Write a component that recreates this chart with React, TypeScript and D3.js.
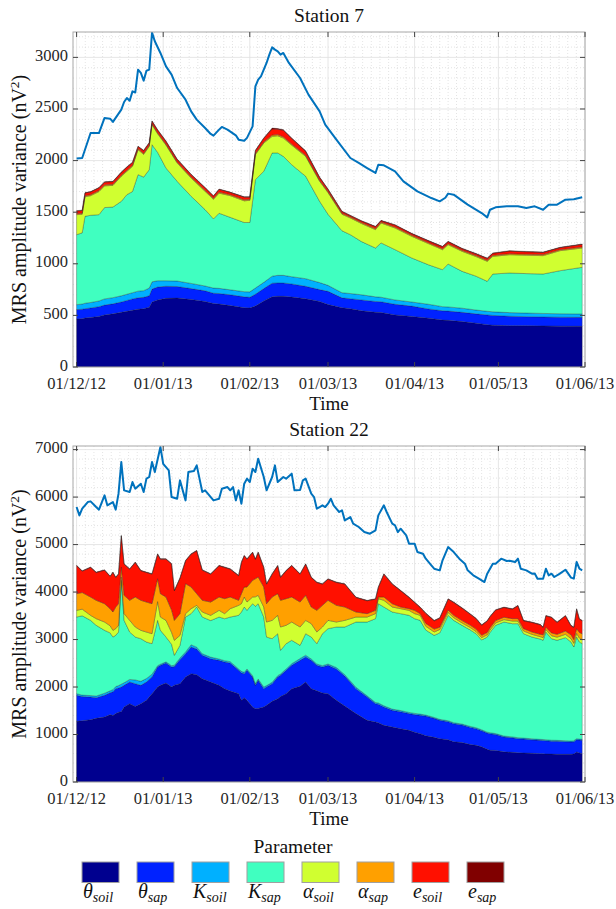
import React from 'react';
import * as d3 from 'd3';

// x values are days since 01/12/12
const START = new Date(2012, 11, 1);

const KEYS = ['thetaSoil', 'thetaSap', 'kSoil', 'kSap', 'alphaSoil', 'alphaSap', 'eSoil', 'eSap'];
const COLORS = ['#00008f', '#0022ff', '#00b0ff', '#40ffc0', '#d0ff30', '#ffa000', '#ff1000', '#800000'];
const SYMBOLS = ['θ', 'θ', 'K', 'K', 'α', 'α', 'e', 'e'];
const SUBS = ['soil', 'sap', 'soil', 'sap', 'soil', 'sap', 'soil', 'sap'];

// ---- Station 7 ----
const days7 = [0, 2, 3, 5, 8, 10, 13, 16, 18, 20, 22, 24, 26, 27, 29, 32, 36, 41, 46, 49, 51, 55, 60, 62, 64, 67, 70, 72, 74, 77, 82, 87, 90, 95, 98, 102, 107, 109, 114, 120, 126, 131, 133, 138, 143, 147, 149, 155, 161, 167, 173, 181];
const thetaSoil7 = [465, 468, 475, 480, 490, 505, 515, 530, 540, 550, 560, 565, 580, 630, 650, 665, 668, 655, 635, 615, 610, 595, 575, 572, 590, 640, 680, 685, 685, 678, 662, 635, 605, 575, 565, 545, 530, 528, 505, 490, 473, 455, 452, 440, 425, 410, 405, 400, 400, 398, 396, 394];
const thetaSap7 = [91, 92, 90, 92, 95, 95, 97, 100, 105, 110, 110, 110, 110, 125, 125, 117, 112, 105, 103, 100, 102, 105, 105, 104, 115, 120, 132, 130, 129, 127, 120, 115, 128, 95, 97, 105, 105, 104, 103, 100, 90, 90, 90, 90, 90, 95, 95, 92, 88, 87, 87, 87];
const kSoil7 = [48, 50, 53, 53, 55, 60, 60, 60, 60, 60, 65, 65, 75, 70, 61, 54, 53, 50, 47, 50, 50, 48, 50, 52, 60, 60, 68, 73, 74, 70, 74, 68, 58, 50, 50, 50, 45, 44, 42, 40, 45, 40, 40, 40, 37, 35, 35, 35, 35, 34, 33, 33];
const kSap7 = [678, 690, 842, 845, 836, 885, 878, 915, 965, 980, 1129, 1100, 1147, 1329, 1244, 1092, 966, 844, 740, 670, 728, 702, 670, 672, 1050, 1076, 1194, 1186, 1153, 1085, 992, 787, 689, 600, 570, 515, 473, 526, 487, 426, 382, 358, 416, 357, 328, 290, 366, 384, 382, 382, 417, 452];
const alphaSoil7 = [194, 180, 190, 190, 224, 210, 210, 243, 226, 244, 242, 220, 226, 194, 180, 222, 178, 177, 177, 190, 195, 210, 210, 215, 243, 274, 161, 166, 178, 190, 193, 194, 210, 160, 162, 175, 178, 193, 210, 210, 205, 194, 187, 194, 190, 194, 171, 177, 178, 178, 194, 187];
const alphaSap7 = [10, 10, 10, 10, 10, 10, 10, 10, 10, 10, 10, 10, 10, 10, 10, 10, 10, 10, 10, 10, 10, 10, 10, 10, 10, 10, 12, 12, 12, 10, 10, 10, 10, 10, 10, 10, 10, 10, 10, 10, 10, 10, 10, 10, 10, 10, 10, 10, 10, 10, 10, 10];
const eSoil7 = [25, 26, 26, 26, 26, 26, 26, 28, 30, 27, 20, 26, 23, 23, 26, 26, 24, 23, 24, 21, 26, 21, 26, 21, 28, 36, 59, 52, 63, 54, 38, 27, 21, 16, 12, 14, 18, 12, 18, 15, 16, 18, 19, 15, 16, 18, 19, 25, 23, 21, 19, 25];
const eSap7 = [4, 4, 4, 4, 4, 4, 4, 4, 4, 4, 4, 4, 4, 4, 4, 4, 4, 4, 4, 4, 4, 4, 4, 4, 4, 4, 10, 6, 6, 6, 6, 4, 4, 4, 4, 4, 4, 4, 4, 4, 4, 4, 4, 4, 4, 4, 4, 4, 4, 4, 4, 4];
const lineDays7 = [0, 2, 5, 8, 10, 12, 13, 16, 17, 18, 19, 20, 21, 22, 23, 24, 25, 26, 27, 28, 30, 32, 34, 36, 39, 41, 43, 46, 48, 49, 51, 52, 54, 57, 58, 60, 61, 63, 64, 65, 66, 68, 69, 70, 71, 72, 73, 74, 76, 80, 83, 87, 89, 93, 98, 101, 104, 107, 108, 110, 114, 117, 122, 127, 130, 132, 133, 135, 140, 145, 147, 148, 150, 154, 158, 161, 164, 167, 169, 172, 175, 178, 181];
const total7 = [2020, 2025, 2267, 2267, 2413, 2406, 2375, 2494, 2568, 2607, 2580, 2671, 2660, 2881, 2850, 2775, 2871, 2881, 3240, 3156, 3043, 2913, 2833, 2703, 2590, 2477, 2397, 2316, 2258, 2242, 2300, 2326, 2300, 2245, 2203, 2193, 2220, 2332, 2720, 2784, 2816, 2946, 3027, 3097, 3075, 3059, 3026, 3043, 2946, 2800, 2639, 2477, 2348, 2203, 2025, 1977, 1928, 1880, 1960, 1954, 1896, 1799, 1702, 1637, 1605, 1640, 1680, 1670, 1573, 1492, 1450, 1524, 1547, 1557, 1557, 1541, 1557, 1524, 1573, 1573, 1621, 1625, 1644];

// ---- Station 22 ----
const days22 = [0, 2, 5, 7, 10, 12, 13, 14, 15, 16, 17, 19, 21, 23, 25, 27, 29, 30, 32, 34, 35, 37, 39, 41, 43, 45, 48, 51, 53, 55, 58, 59, 60, 61, 63, 64, 65, 67, 68, 70, 72, 73, 75, 77, 80, 82, 84, 86, 88, 90, 93, 96, 100, 104, 107, 108, 110, 113, 116, 119, 121, 123, 125, 128, 130, 133, 135, 138, 141, 143, 145, 147, 148, 150, 153, 156, 158, 160, 163, 166, 167, 168, 170, 172, 175, 177, 178, 179, 180, 181];
const thetaSoil22 = [1278, 1290, 1313, 1340, 1369, 1420, 1400, 1440, 1470, 1480, 1580, 1650, 1590, 1650, 1720, 1861, 2000, 2036, 2085, 2001, 2040, 2071, 2211, 2281, 2260, 2176, 2106, 2036, 1966, 1916, 1861, 1720, 1776, 1720, 1580, 1545, 1550, 1580, 1615, 1700, 1755, 1800, 1861, 1966, 2015, 2106, 1966, 1920, 1875, 1861, 1720, 1600, 1440, 1299, 1264, 1250, 1193, 1158, 1123, 1088, 1050, 1018, 975, 940, 913, 890, 850, 830, 790, 773, 740, 690, 667, 665, 635, 625, 615, 611, 605, 597, 595, 590, 588, 583, 583, 583, 590, 632, 610, 597];
const thetaSap22 = [548, 510, 477, 436, 457, 460, 500, 526, 510, 521, 456, 456, 481, 386, 386, 350, 422, 421, 421, 421, 390, 505, 492, 562, 540, 492, 491, 526, 561, 590, 491, 580, 505, 632, 631, 491, 591, 386, 386, 371, 456, 446, 491, 491, 547, 526, 596, 537, 547, 596, 660, 630, 526, 491, 386, 390, 387, 351, 357, 352, 370, 386, 415, 400, 386, 380, 379, 370, 360, 350, 340, 340, 351, 335, 313, 305, 298, 294, 285, 281, 280, 280, 272, 274, 267, 260, 260, 260, 275, 281];
const kSoil22 = [34, 30, 30, 34, 44, 40, 45, 44, 50, 59, 54, 54, 79, 84, 74, 59, 28, 23, 24, 28, 30, 34, 37, 47, 40, 32, 33, 28, 28, 29, 28, 30, 29, 28, 29, 34, 29, 34, 29, 29, 29, 29, 28, 33, 38, 38, 28, 28, 28, 28, 30, 30, 29, 25, 25, 25, 25, 26, 25, 25, 25, 26, 20, 20, 20, 20, 20, 20, 20, 20, 20, 20, 20, 20, 20, 20, 20, 20, 20, 20, 20, 20, 20, 20, 20, 20, 20, 20, 20, 20];
const kSap22 = [1614, 1670, 1584, 1490, 1324, 1220, 1108, 1078, 1128, 2187, 1314, 998, 903, 898, 768, 643, 954, 714, 523, 450, 208, 268, 734, 655, 845, 774, 770, 884, 884, 939, 1130, 1250, 1375, 1235, 1515, 1630, 1585, 1474, 1023, 918, 883, 498, 533, 494, 278, 453, 463, 428, 673, 744, 854, 1004, 1374, 1554, 1764, 2090, 2080, 2045, 2040, 2045, 1994, 1974, 1790, 1728, 1821, 2219, 2155, 2079, 2030, 1980, 1890, 2003, 2112, 2280, 2401, 2384, 2401, 2198, 2143, 2112, 2089, 2268, 2138, 2107, 2170, 2085, 1973, 2141, 2043, 2015];
const alphaSoil22 = [141, 140, 106, 140, 175, 150, 141, 141, 141, 70, 141, 246, 211, 176, 210, 210, 396, 280, 351, 250, 316, 210, 71, 105, 35, 106, 110, 141, 106, 176, 210, 175, 211, 175, 141, 200, 176, 211, 316, 386, 387, 491, 387, 385, 386, 281, 281, 245, 141, 175, 105, 140, 105, 105, 106, 106, 141, 105, 105, 105, 106, 106, 80, 72, 70, 61, 56, 51, 50, 47, 50, 47, 50, 50, 51, 56, 56, 57, 57, 50, 56, 52, 62, 66, 70, 72, 77, 77, 82, 87];
const alphaSap22 = [351, 350, 386, 386, 386, 360, 386, 456, 456, 211, 386, 422, 632, 632, 632, 632, 482, 492, 492, 470, 420, 457, 632, 456, 246, 246, 280, 281, 316, 246, 106, 211, 210, 316, 351, 380, 386, 421, 386, 492, 456, 562, 560, 527, 526, 527, 351, 457, 456, 422, 351, 281, 106, 71, 70, 35, 70, 70, 35, 35, 70, 35, 60, 60, 50, 50, 50, 50, 50, 50, 50, 50, 50, 50, 50, 50, 50, 50, 50, 50, 60, 50, 60, 60, 70, 80, 80, 100, 120, 120];
const eSoil22 = [587, 450, 622, 584, 705, 680, 832, 622, 622, 656, 657, 656, 727, 621, 622, 622, 516, 727, 797, 970, 622, 745, 481, 692, 902, 634, 587, 657, 657, 586, 516, 657, 657, 587, 586, 410, 516, 412, 412, 481, 587, 481, 587, 657, 587, 657, 622, 586, 447, 446, 481, 482, 306, 271, 236, 200, 481, 412, 341, 236, 165, 130, 210, 174, 190, 231, 270, 260, 230, 220, 210, 240, 230, 220, 205, 200, 270, 164, 199, 200, 154, 239, 324, 249, 319, 189, 254, 410, 279, 274];
const eSap22 = [
  10, 10, 10, 10, 10, 10, 10, 10, 10, 10,
  10, 10, 10, 10, 10, 10, 10, 10, 10, 10,
  10, 10, 10, 10, 10, 10, 10, 10, 10, 10,
  10, 10, 10, 10, 10, 10, 10, 10, 10, 10,
  10, 10, 10, 10, 10, 10, 10, 10, 10, 10,
  10, 10, 10, 10, 10, 10, 10, 10, 10, 10,
  10, 10, 10, 10, 10, 10, 10, 10, 10, 10,
  10, 10, 10, 10, 10, 10, 10, 10, 10, 10,
  10, 10, 10, 10, 10, 10, 10, 10, 10, 10,
];
const lineDays22 = [0, 1, 2, 4, 5, 7, 8, 10, 11, 13, 14, 15, 16, 17, 19, 20, 21, 23, 24, 25, 26, 27, 28, 30, 31, 33, 34, 36, 37, 39, 40, 42, 43, 45, 46, 49, 51, 52, 54, 55, 56, 57, 58, 59, 60, 61, 62, 63, 64, 65, 67, 68, 70, 71, 72, 74, 75, 77, 78, 80, 81, 82, 84, 85, 86, 87, 88, 89, 90, 91, 92, 94, 95, 96, 98, 99, 101, 103, 105, 107, 108, 110, 111, 113, 114, 115, 116, 118, 119, 121, 122, 124, 125, 127, 128, 130, 131, 133, 135, 137, 139, 140, 142, 144, 146, 147, 149, 150, 152, 154, 155, 157, 158, 159, 161, 163, 164, 165, 167, 168, 169, 170, 171, 173, 175, 177, 178, 179, 180, 181];
const total22 = [5791, 5615, 5756, 5896, 5910, 5791, 5735, 6037, 5826, 5896, 5735, 6072, 6738, 6142, 6107, 6317, 6177, 6282, 6107, 6388, 6423, 6738, 6528, 7055, 6700, 6563, 6001, 5966, 6352, 5931, 6528, 6549, 6668, 6107, 6142, 5931, 5966, 6177, 6212, 6142, 6212, 5931, 6142, 5861, 6282, 6388, 6317, 6598, 6528, 6808, 6422, 6142, 6423, 6668, 6317, 6423, 6388, 6493, 6142, 6150, 6352, 6388, 6072, 6001, 5756, 5791, 5826, 5791, 5861, 5966, 5826, 5686, 5721, 5510, 5580, 5440, 5370, 5264, 5229, 5299, 5615, 5826, 5686, 5440, 5405, 5264, 5334, 5194, 5019, 5019, 4843, 4808, 4703, 4562, 4492, 4457, 4668, 4948, 4843, 4703, 4597, 4457, 4352, 4282, 4211, 4387, 4597, 4597, 4703, 4654, 4660, 4633, 4703, 4492, 4457, 4387, 4390, 4282, 4282, 4492, 4352, 4387, 4317, 4387, 4471, 4303, 4282, 4633, 4492, 4457];

const FONT = '"Liberation Serif", "DejaVu Serif", serif';
const W = 616;
const H = 909;
const LEFT = 73;
const RIGHT = 585;
const X0 = new Date(2012, 10, 29, 17);
const X1 = new Date(2013, 5, 1);

interface PanelProps {
  title: string;
  id: string;
  days: number[];
  layers: number[][];
  lineDays: number[];
  lineValues: number[];
  yMax: number;
  yStep: number;
  yMinor: number;
  top: number;
  bottom: number;
}

const Panel: React.FC<PanelProps> = ({ title, id, days, layers, lineDays, lineValues, yMax, yStep, yMinor, top, bottom }) => {
  const x = d3.scaleTime().domain([X0, X1]).range([LEFT, RIGHT]);
  const y = d3.scaleLinear().domain([0, yMax]).range([bottom, top]);
  const toDate = (d: number) => d3.timeDay.offset(START, d);

  const rows = days.map((d, i) => {
    const r: any = { date: toDate(d) };
    KEYS.forEach((k, j) => (r[k] = layers[j][i]));
    return r;
  });
  const series = d3.stack<any>().keys(KEYS)(rows);
  const area = d3
    .area<any>()
    .x((d) => x(d.data.date))
    .y0((d) => y(d[0]))
    .y1((d) => y(d[1]));
  const line = d3
    .line<number>()
    .x((_, i) => x(toDate(lineDays[i])))
    .y((d) => y(d));

  const months = d3.timeMonth.range(new Date(2012, 11, 1), new Date(2013, 5, 2));
  const minorX: Date[] = [];
  for (let m = 0; m < months.length - 1; m++) {
    const a = +months[m];
    const b = +months[m + 1];
    for (let k = 1; k < 10; k++) minorX.push(new Date(a + ((b - a) * k) / 10));
  }
  const yTicks = d3.range(0, yMax + 1, yStep);
  const minorY = d3.range(0, yMax, yMinor).filter((v) => v % yStep !== 0);
  const fmt = d3.timeFormat('%d/%m/%y');
  const mid = (LEFT + RIGHT) / 2;

  return (
    <g>
      <defs>
        <clipPath id={id}>
          <rect x={LEFT} y={top} width={RIGHT - LEFT} height={bottom - top} />
        </clipPath>
      </defs>
      <rect x={LEFT} y={top} width={RIGHT - LEFT} height={bottom - top} fill="#fff" />
      {/* minor grid */}
      {minorX.map((d, i) => (
        <line key={'mx' + i} x1={x(d)} x2={x(d)} y1={top} y2={bottom} stroke="#d2d2d2" strokeWidth={0.6} strokeDasharray="1,2" />
      ))}
      {minorY.map((v) => (
        <line key={'my' + v} x1={LEFT} x2={RIGHT} y1={y(v)} y2={y(v)} stroke="#d2d2d2" strokeWidth={0.6} strokeDasharray="1,2" />
      ))}
      {/* major grid */}
      {months.map((d, i) => (
        <line key={'gx' + i} x1={x(d)} x2={x(d)} y1={top} y2={bottom} stroke="#e0e0e0" strokeWidth={0.8} />
      ))}
      {yTicks.map((v) => (
        <line key={'gy' + v} x1={LEFT} x2={RIGHT} y1={y(v)} y2={y(v)} stroke="#e0e0e0" strokeWidth={0.8} />
      ))}
      <g clipPath={`url(#${id})`}>
        {series.map((s, i) => (
          <path key={KEYS[i]} d={area(s) || ''} fill={COLORS[i]} stroke="#1a1a1a" strokeWidth={0.5} strokeOpacity={0.55} />
        ))}
        <path d={line(lineValues) || ''} fill="none" stroke="#0072bd" strokeWidth={2} strokeLinejoin="round" />
      </g>
      {/* box and ticks */}
      <rect x={LEFT} y={top} width={RIGHT - LEFT} height={bottom - top} fill="none" stroke="#a8a8a8" strokeWidth={1} />
      {months.map((d, i) => (
        <g key={'tx' + i}>
          <line x1={x(d)} x2={x(d)} y1={bottom} y2={bottom - 5} stroke="#444" />
          <line x1={x(d)} x2={x(d)} y1={top} y2={top + 5} stroke="#444" />
          <text x={x(d)} y={bottom + 21.5} textAnchor="middle" fontSize={16.5} fill="#262626" style={{ fontFamily: FONT }}>
            {fmt(d)}
          </text>
        </g>
      ))}
      {yTicks.map((v) => (
        <g key={'ty' + v}>
          <line x1={LEFT} x2={LEFT + 5} y1={y(v)} y2={y(v)} stroke="#444" />
          <line x1={RIGHT} x2={RIGHT - 5} y1={y(v)} y2={y(v)} stroke="#444" />
          <text x={LEFT - 5} y={y(v) + 3.5} textAnchor="end" fontSize={16.5} fill="#262626" style={{ fontFamily: FONT }}>
            {v}
          </text>
        </g>
      ))}
      <text x={mid} y={top - 10} textAnchor="middle" fontSize={19.5} fill="#111" style={{ fontFamily: FONT }}>
        {title}
      </text>
      <text x={mid} y={bottom + 43} textAnchor="middle" fontSize={19} fill="#111" style={{ fontFamily: FONT }}>
        Time
      </text>
      <text
        transform={`translate(26,${(top + bottom) / 2}) rotate(-90)`}
        textAnchor="middle"
        fontSize={20}
        fill="#111"
        style={{ fontFamily: FONT }}
      >
        MRS amplitude variance (nV
        <tspan dy={-7} fontSize={13.5}>
          2
        </tspan>
        <tspan dy={7}>)</tspan>
      </text>
    </g>
  );
};

const Legend: React.FC = () => {
  const band = d3.scaleBand<number>().domain(d3.range(KEYS.length)).range([82, 504]).paddingInner(0.327).paddingOuter(0);
  return (
    <g>
      <text x={293} y={853} textAnchor="middle" fontSize={19.5} fill="#111" style={{ fontFamily: FONT }}>
        Parameter
      </text>
      {KEYS.map((k, i) => (
        <g key={k}>
          <rect x={band(i)} y={862} width={band.bandwidth()} height={20.5} fill={COLORS[i]} stroke="#a0a0a0" strokeWidth={1} />
          <text x={(band(i) || 0) + 1} y={898} fontSize={20} fill="#111" fontStyle="italic" style={{ fontFamily: FONT }}>
            {SYMBOLS[i]}
            <tspan fontSize={14} dy={4}>
              {SUBS[i]}
            </tspan>
          </text>
        </g>
      ))}
    </g>
  );
};

export default function App() {
  return (
    <svg width={W} height={H} style={{ position: 'absolute', left: 0, top: 0, background: '#fff', fontFamily: FONT }}>
      <rect width={W} height={H} fill="#fff" />
      <Panel
        title="Station 7"
        id="clip7"
        days={days7}
        layers={[thetaSoil7, thetaSap7, kSoil7, kSap7, alphaSoil7, alphaSap7, eSoil7, eSap7]}
        lineDays={lineDays7}
        lineValues={total7}
        yMax={3246}
        yStep={500}
        yMinor={100}
        top={32}
        bottom={367}
      />
      <Panel
        title="Station 22"
        id="clip22"
        days={days22}
        layers={[thetaSoil22, thetaSap22, kSoil22, kSap22, alphaSoil22, alphaSap22, eSoil22, eSap22]}
        lineDays={lineDays22}
        lineValues={total22}
        yMax={7076}
        yStep={1000}
        yMinor={200}
        top={446}
        bottom={782}
      />
      <Legend />
    </svg>
  );
}
